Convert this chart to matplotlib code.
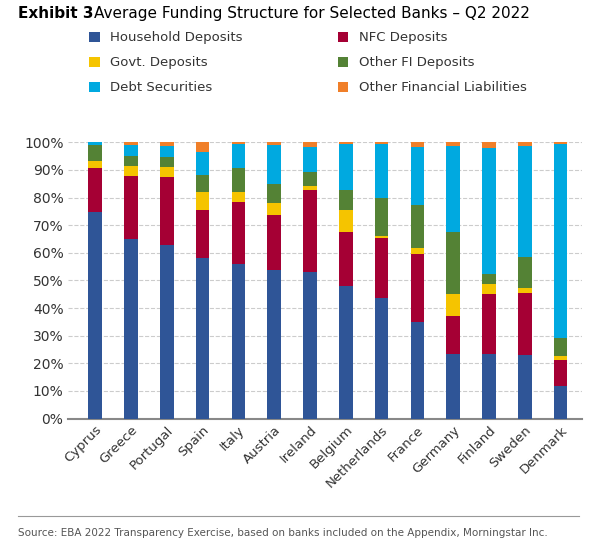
import matplotlib.pyplot as plt
import numpy as np

countries = ["Cyprus", "Greece", "Portugal", "Spain", "Italy", "Austria", "Ireland",
             "Belgium", "Netherlands", "France", "Germany", "Finland", "Sweden", "Denmark"]
# cumulative tops (%)
top_hh = [74.6, 65.0, 62.9, 58.0, 55.9, 53.7, 52.9, 47.8, 43.6, 34.9, 23.3, 23.2, 23.1, 11.8]
top_nfc = [90.7, 87.9, 87.6, 75.6, 78.3, 73.7, 82.6, 67.4, 65.2, 59.4, 37.2, 44.9, 45.3, 21.0]
top_gov = [93.4, 91.3, 90.9, 81.9, 81.9, 78.0, 84.1, 75.4, 66.2, 61.6, 45.0, 48.7, 47.3, 22.7]
top_ofi = [99.0, 95.2, 94.6, 88.2, 90.7, 84.9, 89.1, 82.7, 80.0, 77.2, 67.4, 52.4, 58.6, 29.1]
top_debt = [100.0, 99.0, 98.8, 96.4, 99.4, 99.0, 98.4, 99.4, 99.4, 98.4, 98.6, 97.9, 98.8, 99.4]

names = ["Household Deposits", "NFC Deposits", "Govt. Deposits", "Other FI Deposits",
         "Debt Securities", "Other Financial Liabilities"]
colors = ["#2F5597", "#A50034", "#F5C400", "#548235", "#00A9E0", "#F07F29"]

tops = np.array([top_hh, top_nfc, top_gov, top_ofi, top_debt, [100.0] * 14])
bottoms = np.vstack([np.zeros(14), tops[:-1]])

fig = plt.figure(figsize=(5.94, 5.58), dpi=100)
ax = fig.add_axes([0.115, 0.25, 0.865, 0.495])
x = np.arange(len(countries))
bars = []
for i in range(6):
    bars.append(ax.bar(x, tops[i] - bottoms[i], bottom=bottoms[i], width=0.38,
                       color=colors[i], label=names[i], zorder=3))

ax.set_ylim(0, 100)
ax.set_xlim(-0.75, 13.6)
ax.set_yticks(range(0, 101, 10))
ax.set_yticklabels([f"{v}%" for v in range(0, 101, 10)], fontsize=10, color="#333333")
ax.set_xticks(x)
ax.set_xticklabels(countries, rotation=45, ha="right", rotation_mode="anchor",
                   fontsize=9.5, color="#333333")
ax.yaxis.grid(True, linestyle="--", color="#cccccc", zorder=0)
for s in ["top", "right", "left"]:
    ax.spines[s].set_visible(False)
ax.spines["bottom"].set_color("#888888")
ax.spines["bottom"].set_linewidth(1.5)
ax.tick_params(length=0)

# row-wise legend order like the reference
order = [0, 2, 4, 1, 3, 5]
fig.legend([bars[i] for i in order], [names[i] for i in order],
           loc="upper left", bbox_to_anchor=(0.13, 0.965), ncol=2, frameon=False,
           fontsize=9.5, handlelength=0.8, handleheight=0.8, columnspacing=7.2,
           labelspacing=0.9, labelcolor="#333333")

fig.text(0.03, 0.962, "Exhibit 3", fontsize=11, fontweight="bold", va="bottom")
fig.text(0.158, 0.962, "Average Funding Structure for Selected Banks – Q2 2022",
         fontsize=11, va="bottom")
fig.add_artist(plt.Line2D([0.03, 0.975], [0.075, 0.075], color="#999999", lw=0.8))
fig.text(0.03, 0.045, "Source: EBA 2022 Transparency Exercise, based on banks included on the Appendix, Morningstar Inc.",
         fontsize=7.5, color="#555555", va="center")

fig.savefig("out.png", dpi=100)
